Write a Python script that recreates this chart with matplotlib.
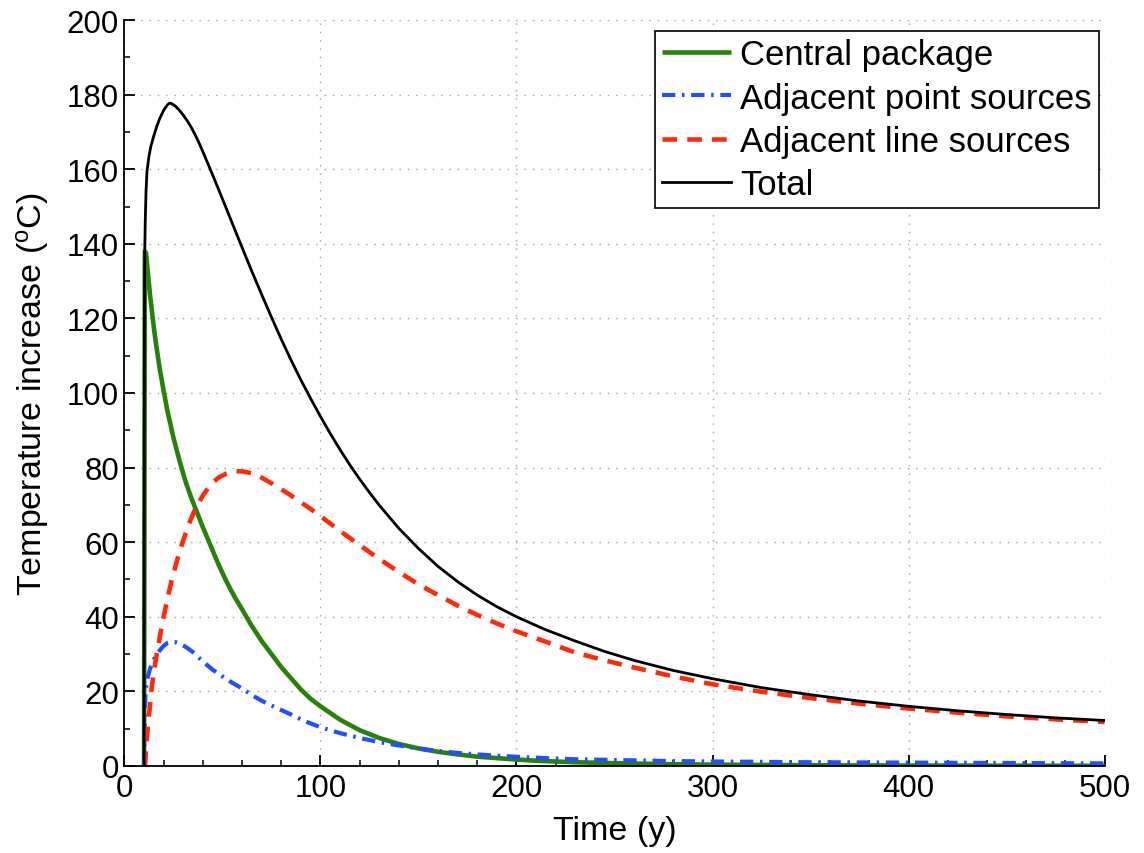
import matplotlib
matplotlib.use("Agg")
import matplotlib.pyplot as plt
from matplotlib.ticker import MultipleLocator

plt.rcParams['font.family'] = ['Liberation Sans', 'DejaVu Sans']
plt.rcParams['mathtext.fontset'] = 'custom'
plt.rcParams['mathtext.rm'] = 'Liberation Sans'
plt.rcParams['mathtext.it'] = 'Liberation Sans:italic'

# ---- data ----
t_central = [10, 10.4, 11, 12, 13, 14, 15, 16, 18, 20, 22, 25, 28, 31, 34, 37, 40, 44, 48, 52,
             56, 60, 65, 70, 75, 80, 85, 90, 95, 100, 110, 120, 130, 140, 150, 160, 170, 180,
             195, 210, 230, 250, 275, 300, 350, 400, 450, 500]
central = [0, 138, 137.5, 132, 126.5, 122, 117.5, 113.5, 106.5, 100.5, 95, 88, 82, 76.5, 72, 68, 64,
           59, 54, 49.5, 45.5, 42, 37.5, 33.5, 30, 26.5, 23.5, 20.5, 18, 16, 12.4, 9.6, 7.5, 5.9,
           4.7, 3.8, 3.1, 2.5, 1.9, 1.4, 1.0, 0.75, 0.5, 0.35, 0.2, 0.12, 0.08, 0.05]

t_point = [10, 10.3, 10.7, 11.2, 12, 13, 14.5, 16, 18, 20, 22, 24, 26, 28, 31, 35, 40, 45, 50,
           55, 60, 65, 70, 75, 80, 85, 90, 95, 100, 110, 120, 130, 140, 150, 160, 170, 180,
           195, 210, 230, 250, 275, 300, 350, 400, 450, 500]
point = [0, 12, 19, 22, 24, 26, 28, 29.5, 31, 32.2, 33, 33.3, 33.2, 32.8, 32, 30.5, 28, 25.8, 24,
         22.3, 20.8, 19, 17.5, 16.2, 15, 13.8, 12.5, 11.4, 10.4, 8.8, 7.5, 6.4, 5.5, 4.7, 4.0,
         3.5, 3.1, 2.6, 2.2, 1.8, 1.6, 1.35, 1.2, 1.0, 0.9, 0.8, 0.7]

t_line = [10.5, 11, 12, 13, 14, 15, 16, 17, 18, 20, 22, 24, 26, 28, 30, 33, 36, 40, 44, 48, 52,
          56, 60, 65, 70, 75, 80, 85, 90, 95, 100, 110, 120, 130, 140, 150, 160, 170, 180, 190,
          200, 215, 230, 245, 260, 280, 300, 325, 350, 375, 400, 425, 450, 475, 500]
line = [0, 5, 11, 16, 21.5, 25, 28.5, 31.5, 34.5, 40, 45, 49.5, 53.5, 57.3, 60.5, 65, 68.8, 72.5,
        75.5, 77.3, 78.4, 79, 79, 78.5, 77.3, 75.8, 74.2, 72.5, 70.7, 68.9, 67, 63, 59.2, 55.5,
        52, 48.7, 45.8, 43, 40.5, 38.2, 36.1, 33.3, 30.4, 28.3, 26.4, 24.0, 21.9, 19.9, 18.2,
        16.7, 15.4, 14.3, 13.3, 12.5, 11.8]

t_total = [10, 10.15, 10.35, 10.6, 11, 11.5, 12.5, 13.5, 15, 16.5, 18, 20, 22, 23, 24, 26, 28,
           30, 32, 34, 36, 38, 40, 42, 44, 48, 52, 56, 60, 65, 70, 75, 80, 85, 90, 95, 100, 105,
           110, 115, 120, 125, 130, 140, 150, 160, 170, 180, 190, 200, 215, 230, 245, 260, 280,
           300, 325, 350, 375, 400, 425, 450, 475, 500]
total = [0, 115, 138, 146, 154, 159.5, 163.5, 166.2, 169, 171.5, 173.6, 175.8, 177.3, 177.7,
         177.6, 176.9, 175.8, 174.5, 173.0, 171.3, 169.3, 167.1, 164.7, 162.2, 159.7, 154.6,
         149.4, 144.2, 139, 132.6, 126.4, 120.3, 114.4, 108.8, 103.5, 98.5, 93.7, 89.1, 84.8,
         80.7, 76.9, 73.3, 69.9, 63.7, 58.3, 53.5, 49.4, 45.8, 42.7, 40.0, 36.5, 33.5, 30.7,
         28.3, 25.6, 23.4, 21.0, 19.1, 17.4, 16.0, 14.8, 13.8, 12.9, 12.2]

labels = ['Central package', 'Adjacent point sources', 'Adjacent line sources', 'Total']
xticks = [0, 100, 200, 300, 400, 500]
yticks = [0, 20, 40, 60, 80, 100, 120, 140, 160, 180, 200]

# ---- figure ----
fig = plt.figure(figsize=(11.44, 8.54), dpi=100)
ax = fig.add_axes([0.1088, 0.1019, 0.9655 - 0.1088, 0.9754 - 0.1019])

ax.plot(t_central, central, color='#27820a', lw=3.3, solid_capstyle='butt',
        solid_joinstyle='round', label=labels[0])
ax.plot(t_point, point, color='#1f4fff', lw=3.0, dashes=(3.2, 1.6, 0.6, 1.6),
        dash_capstyle='butt', label=labels[1])
ax.plot(t_line, line, color='#ff2a0a', lw=3.3, dashes=(3.2, 2.2),
        dash_capstyle='butt', label=labels[2])
ax.plot(t_total, total, color='black', lw=2.0, solid_joinstyle='round', label=labels[3])

ax.set_xlim(0, 500)
ax.set_ylim(0, 200)
ax.set_xticks(xticks)
ax.set_yticks(yticks)
ax.xaxis.set_minor_locator(MultipleLocator(20))
ax.yaxis.set_minor_locator(MultipleLocator(10))

ax.tick_params(axis='both', which='major', direction='in', length=8, width=1.3,
               labelsize=22.5, pad=4, top=False, right=False)
ax.tick_params(axis='both', which='minor', direction='in', length=4.5, width=1.1,
               top=False, right=False)
ax.tick_params(axis='x', which='major', pad=5)

for s in ['top', 'right']:
    ax.spines[s].set_visible(False)
for s in ['left', 'bottom']:
    ax.spines[s].set_linewidth(1.3)

ax.grid(True, which='major', color='#a0a0a0', linestyle=(0, (1, 5)), linewidth=1.0)
ax.set_axisbelow(True)

ax.set_xlabel('Time (y)', fontsize=24.5, labelpad=9)
ax.set_ylabel(r'Temperature increase ($^{\mathrm{o}}$C)', fontsize=24.5, labelpad=11)

leg = ax.legend(loc='upper right', bbox_to_anchor=(0.994, 0.985), fontsize=25,
                frameon=True, fancybox=False, shadow=False, framealpha=1,
                edgecolor='black', handlelength=2.0, handletextpad=0.25,
                labelspacing=0.3, borderpad=0.2, borderaxespad=0.0)
leg.get_frame().set_linewidth(1.2)

fig.savefig('out.png', dpi=100)
